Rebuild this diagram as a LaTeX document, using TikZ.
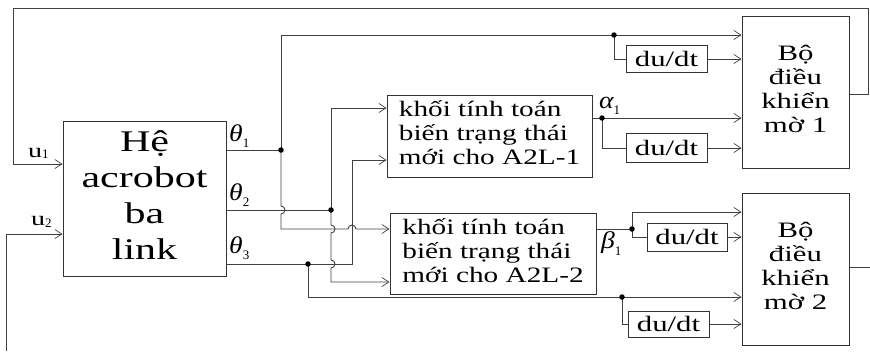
\documentclass[tikz,border=0pt]{standalone}
\usepackage{fontspec}
\usepackage{graphicx}
\setmainfont{Liberation Serif}
\usetikzlibrary{arrows.meta}
\newcommand\lowsub[2]{\raisebox{-#1}{\fontsize{13}{13}\selectfont #2}}
\newcommand\xs[1]{\scalebox{1.4}[1]{#1}}
\newcommand\ctab[1]{\xs{\begin{tabular}{@{}c@{}}#1\end{tabular}}}
\newcommand\ltab[1]{\scalebox{1.33}[1]{\begin{tabular}{@{}l@{}}#1\end{tabular}}}
\begin{document}
\begin{tikzpicture}[x=1pt,y=-1pt,
  ln/.style={draw=black!75, line width=0.9pt},
  arr/.style={ln, -{Straight Barb[length=7pt,width=9pt,line width=0.7pt]}},
  blk/.style={draw=black!80, line width=1pt, inner sep=0pt},
  dot/.style={circle, fill=black, inner sep=0pt, minimum size=5.5pt},
  lbl/.style={inner sep=0pt},
  ddt/.style={blk, minimum width=81pt, minimum height=27pt, font=\fontsize{22}{24}\selectfont}]
\useasboundingbox (0,0) rectangle (870,351);

% blocks
\node[blk, minimum width=163pt, minimum height=155pt,
      font=\fontsize{30}{36}\selectfont] (he) at (144.5,198.5) {\ctab{Hệ\\acrobot\\ba\\link}};
\node[blk, minimum width=205pt, minimum height=82pt,
      font=\fontsize{22}{24}\selectfont] (k1) at (489.5,136) {\ltab{khối tính toán\\biến trạng thái\\mới cho A2L-1}};
\node[blk, minimum width=206pt, minimum height=81pt,
      font=\fontsize{22}{24}\selectfont] (k2) at (493,253.5) {\ltab{khối tính toán\\biến trạng thái\\mới cho A2L-2}};
\node[blk, minimum width=107pt, minimum height=152pt,
      font=\fontsize{22}{24}\selectfont] (b1) at (795.5,92) {\ctab{Bộ\\điều\\khiển\\mờ 1}};
\node[blk, minimum width=107pt, minimum height=152pt,
      font=\fontsize{22}{24}\selectfont] (b2) at (795.5,269) {\ctab{Bộ\\điều\\khiển\\mờ 2}};
\node[ddt] (d1) at (666.5,59) {\xs{du/dt}};
\node[ddt, minimum height=29pt] (d2) at (666.5,148) {\xs{du/dt}};
\node[ddt, minimum width=80pt, minimum height=28pt] (d3) at (687,237) {\xs{du/dt}};
\node[ddt, minimum height=26pt] (d4) at (668.5,324) {\xs{du/dt}};

% junctions and corners
\coordinate (j1) at (281,150);
\coordinate (c1) at (281,35);
\coordinate (p1) at (614,35);
\coordinate (c1b) at (614,59);
\coordinate (c2) at (281,229);
\coordinate (j2) at (331,210);
\coordinate (c5) at (331,108);
\coordinate (c6) at (331,282);
\coordinate (j3) at (308,264);
\coordinate (c3) at (352,264);
\coordinate (c7) at (352,160);
\coordinate (c4) at (308,297);
\coordinate (p4) at (622,297);
\coordinate (c4b) at (622,324);
\coordinate (pa) at (602,118);
\coordinate (pab) at (602,148);
\coordinate (pb) at (632,229);
\coordinate (pbt) at (632,212);
\coordinate (pbb) at (632,237);
\coordinate (o1) at (868,94);
\coordinate (o2) at (868,8);
\coordinate (o3) at (13,8);
\coordinate (o4) at (13,164);
\coordinate (o5) at (6,351);
\coordinate (o6) at (6,234);
\coordinate (o7) at (870,267);

% theta1
\draw[ln] (he.east |- j1) -- (j1);
\draw[arr] (j1) -- (c1) -- (b1.west |- c1);
\draw[ln] (p1) -- (c1b) -- (d1.west);
\draw[arr] (d1.east) -- (b1.west |- d1.east);
\draw[arr] (j1) -- (281,206) arc(90:-90:4pt) -- (c2) -- (348,229) arc(180:0:4pt) -- (k2.west |- c2);
% theta2
\draw[ln] (he.east |- j2) -- (j2);
\draw[arr] (j2) -- (c5) -- (k1.west |- c5);
\draw[arr] (j2) -- (331,225) arc(90:-90:4pt) -- (331,260) arc(90:-90:4pt) -- (c6) -- (k2.west |- c6);
% theta3
\draw[arr] (he.east |- j3) -- (c3) -- (c7) -- (k1.west |- c7);
\draw[arr] (j3) -- (c4) -- (b2.west |- c4);
\draw[ln] (p4) -- (c4b) -- (d4.west);
\draw[arr] (d4.east) -- (b2.west |- d4.east);
% alpha1
\draw[arr] (k1.east |- pa) -- (b1.west |- pa);
\draw[ln] (pa) -- (pab) -- (d2.west);
\draw[arr] (d2.east) -- (b1.west |- d2.east);
% beta1
\draw[ln] (k2.east |- pb) -- (pb);
\draw[arr] (pb) -- (pbt) -- (b2.west |- pbt);
\draw[ln] (pb) -- (pbb) -- (d3.west);
\draw[arr] (d3.east) -- (b2.west |- d3.east);
% feedback
\draw[arr] (b1.east |- o1) -- (o1) -- (o2) -- (o3) -- (o4) -- (he.west |- o4);
\draw[arr] (o5) -- (o6) -- (he.west |- o6);
\draw[ln] (b2.east |- o7) -- (o7);

% dots
\foreach \p in {j1,p1,j2,j3,p4,pa,pb} \node[dot] at (\p) {};

% labels
\node[lbl, anchor=base west, font=\fontsize{24}{24}\selectfont] (th1) at (229,141) {\scalebox{1.15}[1]{\itshape θ}\lowsub{6pt}{1}};
\node[lbl, anchor=base west, font=\fontsize{24}{24}\selectfont] (th2) at (229,200) {\scalebox{1.15}[1]{\itshape θ}\lowsub{6pt}{2}};
\node[lbl, anchor=base west, font=\fontsize{24}{24}\selectfont] (th3) at (229,253) {\scalebox{1.15}[1]{\itshape θ}\lowsub{6pt}{3}};
\node[lbl, anchor=base west, font=\fontsize{24}{24}\selectfont] (al) at (599,108) {\scalebox{1.15}[1]{\itshape α}\lowsub{6pt}{1}};
\node[lbl, anchor=base west, font=\fontsize{24}{24}\selectfont] (be) at (601,248) {\scalebox{1.15}[1]{\itshape β}\lowsub{7pt}{1}};
\node[lbl, anchor=base west, font=\fontsize{20}{20}\selectfont] (u1) at (28,157) {\xs{u}\lowsub{1pt}{1}};
\node[lbl, anchor=base west, font=\fontsize{20}{20}\selectfont] (u2) at (31,225) {\xs{u}\lowsub{2pt}{2}};
\end{tikzpicture}
\end{document}
